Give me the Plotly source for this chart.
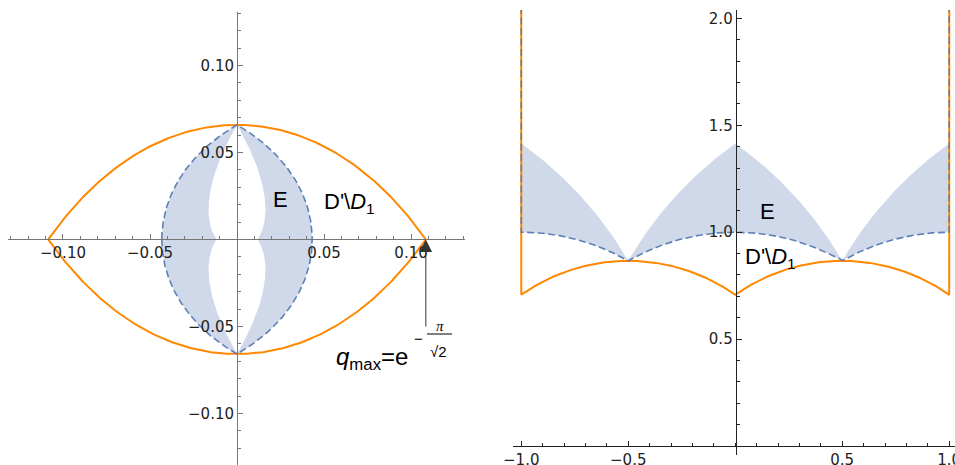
import numpy as np
import plotly.graph_objects as go

# tau-plane boundary pieces: (centre on real axis, radius, x from, x to)
orange_arcs = [(-0.5, 0.866, -1.0, 0.0), (0.5, 0.866, 0.0, 1.0)]
dashed_arcs = [(-1.0, 1.0, -1.0, -0.5), (0.0, 1.0, -0.5, 0.5), (1.0, 1.0, 0.5, 1.0)]
upper_arcs = [(-2.0, 1.732, -1.0, -0.5), (1.0, 1.732, -0.5, 0.0),
              (-1.0, 1.732, 0.0, 0.5), (2.0, 1.732, 0.5, 1.0)]
side_x = [-1.0, 1.0]          # vertical sides of the strip
side_orange_from = 0.707      # orange side starts here
side_dashed_from = 1.0        # dashed side starts here
side_top = 2.2
q_max = 0.1085                # e^(-pi/sqrt(2))

# tick labels
left_ticks = [-0.10, -0.05, 0.05, 0.10]
left_ticktext = ["\u22120.10", "\u22120.05", "0.05", "0.10"]
right_xticks = [-1.0, -0.5, 0.5, 1.0]
right_xticktext = ["\u22121.0", "\u22120.5", "0.5", "1.0"]
right_yticks = [0.5, 1.0, 1.5, 2.0]
right_yticktext = ["0.5", "1.0", "1.5", "2.0"]

ORANGE = "#FF8800"
BLUE = "#5E81B5"
FILL = "#CFD9E9"


def arc(c, r, x0, x1, n=160):
    x = np.linspace(x0, x1, n)
    return x, np.sqrt(np.maximum(r * r - (x - c) ** 2, 0))


def chain(arcs):
    xs, ys = zip(*[arc(*a) for a in arcs])
    return np.concatenate(xs), np.concatenate(ys)


def to_q(x, y):
    # q = exp(i*pi*tau)
    rad = np.exp(-np.pi * y)
    return rad * np.cos(np.pi * x), rad * np.sin(np.pi * x)


ox, oy = chain(orange_arcs)
dx, dy = chain(dashed_arcs)
ux, uy = chain(upper_arcs)

DASH = dict(color=BLUE, width=1.6, dash="7px,3.5px")

fig = go.Figure()

# ---- left panel (q-plane) ----
sx = np.concatenate([dx, ux[::-1]])
sy = np.concatenate([dy, uy[::-1]])
qx, qy = to_q(sx, sy)
fig.add_trace(go.Scatter(x=qx, y=qy, fill="toself", fillcolor=FILL, mode="lines",
                         line=dict(width=0, color=FILL), hoverinfo="skip"))
qx, qy = to_q(ox, oy)
fig.add_trace(go.Scatter(x=qx, y=qy, mode="lines", line=dict(color=ORANGE, width=2)))
qx, qy = to_q(dx, dy)
fig.add_trace(go.Scatter(x=qx, y=qy, mode="lines", line=DASH))

# ---- right panel (tau-plane) ----
fig.add_trace(go.Scatter(x=sx, y=sy, fill="toself", fillcolor=FILL, mode="lines",
                         line=dict(width=0, color=FILL), hoverinfo="skip",
                         xaxis="x2", yaxis="y2"))
rx = np.concatenate([[side_x[0], side_x[0]], ox, [side_x[1], side_x[1]]])
ry = np.concatenate([[side_top, side_orange_from], oy, [side_orange_from, side_top]])
fig.add_trace(go.Scatter(x=rx, y=ry, mode="lines", line=dict(color=ORANGE, width=2),
                         xaxis="x2", yaxis="y2"))
rx = np.concatenate([[side_x[0], side_x[0]], dx, [side_x[1], side_x[1]]])
ry = np.concatenate([[side_top, side_dashed_from], dy, [side_dashed_from, side_top]])
fig.add_trace(go.Scatter(x=rx, y=ry, mode="lines", line=DASH, xaxis="x2", yaxis="y2"))


def axis_style(color, tickvals, ticktext, dtick):
    return dict(
        anchor="free", showline=True, linecolor=color, linewidth=1,
        showgrid=False, zeroline=False, automargin=False,
        tickmode="array", tickvals=tickvals, ticktext=ticktext,
        ticks="inside", ticklen=5, tickwidth=1, tickcolor=color,
        minor=dict(ticks="inside", ticklen=3, tickwidth=1, tickcolor=color,
                   tickmode="linear", tick0=0, dtick=dtick),
        tickfont=dict(family="DejaVu Sans", size=15, color="#222"),
        ticklabeloverflow="allow", fixedrange=True,
    )


W, H = 955, 465


def fx(px):
    return px / W


def fy(py):
    return 1 - py / H


fig.update_layout(
    width=W, height=H, margin=dict(l=0, r=0, t=0, b=0, autoexpand=False),
    paper_bgcolor="white", plot_bgcolor="rgba(0,0,0,0)", showlegend=False,
    xaxis=dict(axis_style("#777", left_ticks, left_ticktext, 0.01),
               domain=[fx(8), fx(465)], range=[-0.1316, 0.1310], position=fy(239.4)),
    yaxis=dict(axis_style("#777", left_ticks, left_ticktext, 0.01),
               domain=[fy(465), fy(12)], range=[-0.1296, 0.1307], position=fx(237)),
    xaxis2=dict(axis_style("#222", right_xticks, right_xticktext, 0.1),
                domain=[fx(512.7), 1], range=[-1.04, 1.027], position=fy(446)),
    yaxis2=dict(axis_style("#222", right_yticks, right_yticktext, 0.1),
                domain=[fy(455), fy(10)], range=[-0.042, 2.039], position=fx(735.7)),
)

LBL = dict(family="Liberation Sans, Arial", size=22, color="black")


def label(text, px, py, xanchor="center", font=LBL):
    fig.add_annotation(text=text, x=fx(px), y=fy(py), xref="paper", yref="paper",
                       xanchor=xanchor, yanchor="middle", showarrow=False, font=font)


label("E", 280, 199)
label("D'\\<i>D</i><sub>1</sub>", 322, 203, "left")
label("E", 767, 211)
label("D'\\<i>D</i><sub>1</sub>", 743, 258, "left")

# q_max arrow and formula
fig.add_annotation(x=q_max, y=0, ax=q_max, ay=-0.0509, xref="x", yref="y",
                   axref="x", ayref="y", text="", showarrow=True,
                   arrowhead=2, arrowsize=2.5, arrowwidth=1, arrowcolor="#333")
label("<i>q</i><sub>max</sub>=e", 334, 358, "left",
      font=dict(family="Liberation Sans, Arial", size=24, color="black"))
small = dict(family="Liberation Sans, Arial", size=15, color="black")
label("\u2212", 418, 338, font=small)
label("<i>\u03c0</i>", 440, 326, font=dict(family="Liberation Serif", size=15, color="black"))
label("\u221a2", 438, 351, font=small)
fig.add_shape(type="line", xref="paper", yref="paper", x0=fx(427), x1=fx(452),
              y0=fy(334), y1=fy(334), line=dict(color="black", width=1))

# drop the default 8px page margin so the figure fills the window exactly
fig.write_html("out.html", config=dict(displayModeBar=False),
               post_script="document.body.style.margin='0';"
                           "document.body.style.overflow='hidden';")
